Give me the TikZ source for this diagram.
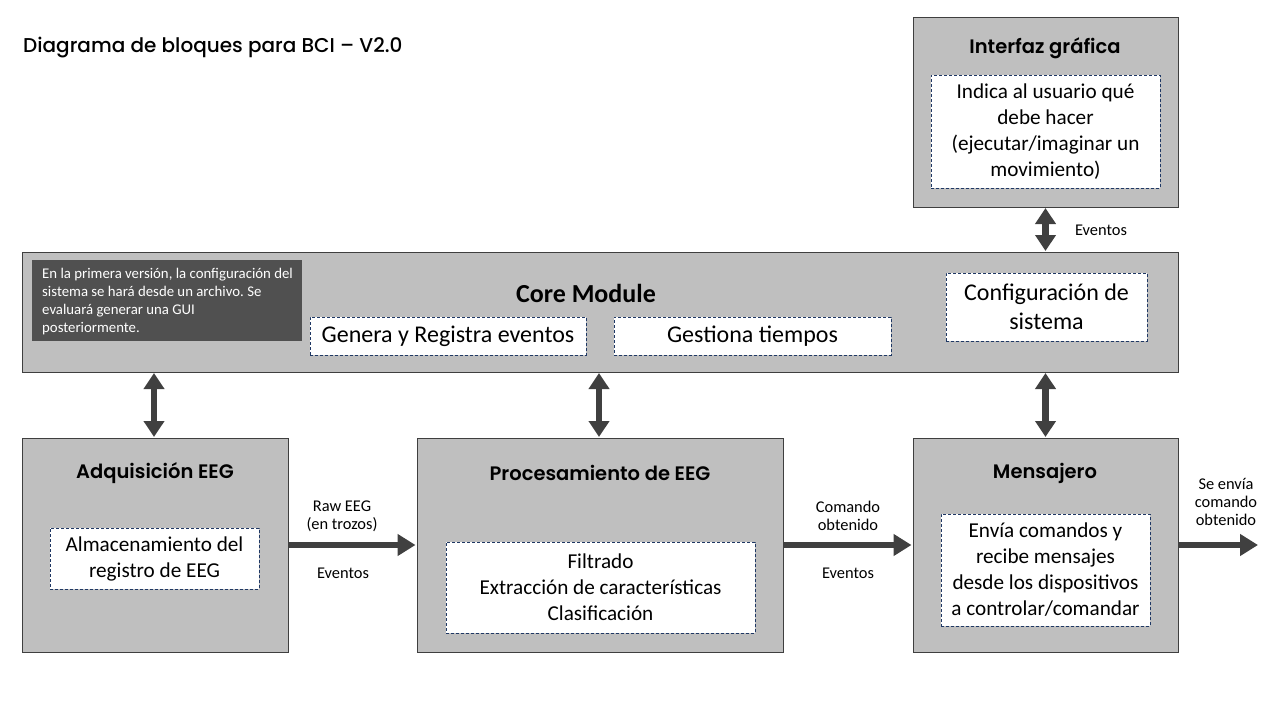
\documentclass[tikz,border=0pt]{standalone}
\usepackage{fontspec}
\setmainfont{Carlito}
\newfontfamily\headfont{Poppins Medium}
\newfontfamily\headboldfont{Poppins SemiBold}
\usetikzlibrary{arrows.meta}
\definecolor{boxgray}{HTML}{BFBFBF}
\definecolor{edgegray}{HTML}{3F3F3F}
\definecolor{notegray}{HTML}{505050}
\definecolor{dashblue}{HTML}{1F3864}
\definecolor{arrowgray}{HTML}{404040}
\tikzset{
  block/.style={draw=edgegray, fill=boxgray, line width=1pt, inner sep=0pt},
  inbox/.style={draw=dashblue, fill=white, line width=0.9pt, dash pattern=on 3pt off 2pt, inner sep=0pt, align=center, font=\fontsize{21.2}{26}\selectfont},
  corein/.style={inbox, font=\fontsize{24}{29}\selectfont},
  heading/.style={inner sep=0pt, font=\headboldfont\fontsize{19.5}{22}\selectfont},
  lbl/.style={inner sep=0pt, align=center, font=\fontsize{16.4}{18}\selectfont},
  biarrow/.style={draw=arrowgray, line width=6.5pt, {Triangle[length=16pt,width=20pt]}-{Triangle[length=16pt,width=20pt]}, shorten <=0.5pt, shorten >=0.5pt},
  fwarrow/.style={draw=arrowgray, line width=6.5pt, -{Triangle[length=18pt,width=21pt]}},
}
\frenchspacing
\begin{document}
\begin{tikzpicture}[x=1pt,y=-1pt]
\useasboundingbox (0,0) rectangle (1280,720);
% title
\node[anchor=west, inner sep=0pt, font=\headfont\fontsize{20}{22}\selectfont] (title) at (23,48) {Diagrama de bloques para BCI – V2.0};
% main blocks
\node[block, minimum width=265pt, minimum height=190pt] (gui) at (1045.5,112) {};
\node[block, minimum width=1156pt, minimum height=120pt] (core) at (600,312) {};
\node[block, minimum width=266pt, minimum height=214pt] (acq) at (155,545) {};
\node[block, minimum width=366pt, minimum height=214pt] (proc) at (600,545) {};
\node[block, minimum width=265pt, minimum height=214pt] (msg) at (1045.5,545) {};
% headings
\node[heading] (guih) at (1045,48) {Interfaz gráfica};
\node[inner sep=0pt, font=\bfseries\fontsize{26}{30}\selectfont] (coreh) at (586,293) {Core Module};
\node[heading] (acqh) at (155,473) {Adquisición EEG};
\node[heading] (proch) at (600,473) {Procesamiento de EEG};
\node[heading] (msgh) at (1045,473) {Mensajero};
% inner boxes
\node[inbox, minimum width=229pt, minimum height=113pt] (guiin) at (1045.5,131.5) {Indica al usuario qué\\debe hacer\\(ejecutar/imaginar un\\movimiento)};
\node[fill=notegray, minimum width=270pt, minimum height=81pt, inner sep=0pt] (note) at (167,300.5) {};
\node[anchor=north west, inner sep=0pt, text=white, align=left, font=\fontsize{14.8}{18}\selectfont] (notetxt) at (42,268.5) {En la primera versión, la configuración del\\sistema se hará desde un archivo. Se\\evaluará generar una GUI\\posteriormente.};
\node[corein, minimum width=276pt, minimum height=38pt] (genera) at (448,336) {Genera y Registra eventos};
\node[corein, minimum width=277pt, minimum height=38pt] (gest) at (752.5,336) {Gestiona tiempos};
\node[corein, minimum width=201pt, minimum height=68pt] (conf) at (1046.5,307) {Configuración de\\sistema};
\node[inbox, minimum width=209pt, minimum height=61pt] (acqin) at (154.5,558.5) {Almacenamiento del\\registro de EEG};
\node[inbox, minimum width=309pt, minimum height=91pt] (procin) at (600.5,587.5) {Filtrado\\Extracción de características\\Clasificación};
\node[inbox, minimum width=209pt, minimum height=112pt] (msgin) at (1045.5,570) {Envía comandos y\\recibe mensajes\\desde los dispositivos\\a controlar/comandar};
% vertical arrows
\draw[biarrow] (gui.south) -- (gui.south |- core.north);
\draw[biarrow] (acq.north -| 154,0) -- (core.south -| 154,0);
\draw[biarrow] (proc.north -| 599,0) -- (core.south -| 599,0);
\draw[biarrow] (msg.north) -- (msg.north |- core.south);
% horizontal arrows
\coordinate (out) at (1258,545);
\draw[fwarrow] (acq.east) -- ([xshift=-1pt]proc.west);
\draw[fwarrow] (proc.east) -- ([xshift=-1pt]msg.west);
\draw[fwarrow] (msg.east) -- (out);
% labels
\node[lbl] (ev0) at (1101,230) {Eventos};
\node[lbl] (raw) at (342,516) {Raw EEG\\(en trozos)};
\node[lbl] (ev1) at (343,573) {Eventos};
\node[lbl] (cmd) at (848,516) {Comando\\obtenido};
\node[lbl] (ev2) at (848,573) {Eventos};
\node[lbl] (send) at (1226,502) {Se envía\\comando\\obtenido};
\end{tikzpicture}
\end{document}
